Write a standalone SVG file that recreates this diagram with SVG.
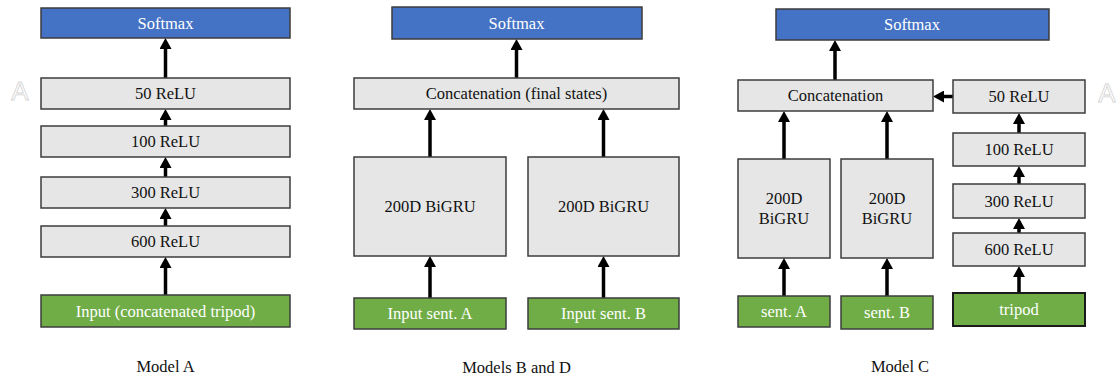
<svg xmlns="http://www.w3.org/2000/svg" width="1117" height="378" viewBox="0 0 1117 378">
<style>
.box{stroke:#3c3c3c;stroke-width:1.5}
.gray{fill:#e6e6e6}
.blue{fill:#4472c4}
.green{fill:#70ad47}
text{font-family:"Liberation Serif","Times New Roman",serif;font-size:16.5px;text-anchor:middle}
.w{fill:#ffffff}
.k{fill:#111111}
.cap{fill:#111111}
.ghost{font-family:"Liberation Sans",Arial,sans-serif;font-size:26px;fill:#ffffff;stroke:#d4d4d4;stroke-width:0.8}
.arr{stroke:#000;stroke-width:3.5;fill:none;marker-end:url(#ah)}
</style>
<defs>
<marker id="ah" markerUnits="userSpaceOnUse" markerWidth="11" markerHeight="12" refX="3" refY="6" orient="auto">
<path d="M0,0 L11,6 L0,12 z" fill="#000"/>
</marker>
</defs>
<rect width="1117" height="378" fill="#ffffff"/>
<text class="ghost" x="20" y="100">A</text>
<text class="ghost" x="1107" y="102">A</text>

<g id="connectors">
<line class="arr" x1="165.5" y1="78" x2="165.5" y2="46"/>
<line class="arr" x1="165.5" y1="126" x2="165.5" y2="117"/>
<line class="arr" x1="165.5" y1="177" x2="165.5" y2="165"/>
<line class="arr" x1="165.5" y1="226" x2="165.5" y2="216"/>
<line class="arr" x1="165.5" y1="295" x2="165.5" y2="265"/>

<line class="arr" x1="516.5" y1="78" x2="516.5" y2="47"/>
<line class="arr" x1="430" y1="157" x2="430" y2="117"/>
<line class="arr" x1="603.5" y1="157" x2="603.5" y2="117"/>
<line class="arr" x1="430" y1="298" x2="430" y2="264"/>
<line class="arr" x1="603.5" y1="298" x2="603.5" y2="264"/>

<line class="arr" x1="835" y1="80" x2="835" y2="48"/>
<line class="arr" x1="784" y1="159" x2="784" y2="119"/>
<line class="arr" x1="887" y1="159" x2="887" y2="119"/>
<line class="arr" x1="784" y1="296" x2="784" y2="266"/>
<line class="arr" x1="887" y1="296" x2="887" y2="266"/>
<line class="arr" x1="1019" y1="133" x2="1019" y2="121"/>
<line class="arr" x1="1019" y1="184" x2="1019" y2="174"/>
<line class="arr" x1="1019" y1="233" x2="1019" y2="226"/>
<line class="arr" x1="1019" y1="293" x2="1019" y2="274"/>
<line class="arr" x1="953" y1="96.5" x2="941" y2="96.5"/>
</g>

<g id="modelA">
<g id="a-softmax"><rect class="box blue" x="41" y="8" width="249" height="30"/><text class="w" x="165.5" y="28.5">Softmax</text></g>
<g id="a-50"><rect class="box gray" x="41" y="78" width="249" height="31"/><text class="k" x="165.5" y="99">50 ReLU</text></g>
<g id="a-100"><rect class="box gray" x="41" y="126" width="249" height="31"/><text class="k" x="165.5" y="147">100 ReLU</text></g>
<g id="a-300"><rect class="box gray" x="41" y="177" width="249" height="31"/><text class="k" x="165.5" y="198">300 ReLU</text></g>
<g id="a-600"><rect class="box gray" x="41" y="226" width="249" height="31"/><text class="k" x="165.5" y="247">600 ReLU</text></g>
<g id="a-input"><rect class="box green" x="41" y="295" width="249" height="32"/><text class="w" x="165.5" y="316.5">Input (concatenated tripod)</text></g>
<text class="cap" x="165.5" y="372">Model A</text>
</g>

<g id="modelBD">
<g id="b-softmax"><rect class="box blue" x="392" y="7" width="250" height="32"/><text class="w" x="516.5" y="28.5">Softmax</text></g>
<g id="b-concat"><rect class="box gray" x="354" y="78" width="325" height="31"/><text class="k" x="516.5" y="99">Concatenation (final states)</text></g>
<g id="b-gruA"><rect class="box gray" x="354" y="157" width="152" height="99"/><text class="k" x="430" y="212">200D BiGRU</text></g>
<g id="b-gruB"><rect class="box gray" x="528" y="157" width="151" height="99"/><text class="k" x="603.5" y="212">200D BiGRU</text></g>
<g id="b-inA"><rect class="box green" x="354" y="298" width="152" height="31"/><text class="w" x="430" y="319">Input sent. A</text></g>
<g id="b-inB"><rect class="box green" x="528" y="298" width="151" height="31"/><text class="w" x="603.5" y="319">Input sent. B</text></g>
<text class="cap" x="516.5" y="373">Models B and D</text>
</g>

<g id="modelC">
<g id="c-softmax"><rect class="box blue" x="776" y="9" width="273" height="31"/><text class="w" x="912" y="30">Softmax</text></g>
<g id="c-concat"><rect class="box gray" x="738" y="80" width="195" height="31"/><text class="k" x="835.5" y="101">Concatenation</text></g>
<g id="c-50"><rect class="box gray" x="953" y="80" width="132" height="33"/><text class="k" x="1019" y="102">50 ReLU</text></g>
<g id="c-100"><rect class="box gray" x="953" y="133" width="132" height="33"/><text class="k" x="1019" y="155">100 ReLU</text></g>
<g id="c-300"><rect class="box gray" x="953" y="184" width="132" height="34"/><text class="k" x="1019" y="206.5">300 ReLU</text></g>
<g id="c-600"><rect class="box gray" x="953" y="233" width="132" height="33"/><text class="k" x="1019" y="255">600 ReLU</text></g>
<g id="c-tripod"><rect class="green" x="953" y="293" width="132" height="33" stroke="#1a1a1a" stroke-width="2"/><text class="w" x="1019" y="315">tripod</text></g>
<g id="c-gruA"><rect class="box gray" x="738" y="159" width="92" height="99"/><text class="k" x="784" y="204">200D</text><text class="k" x="784" y="224">BiGRU</text></g>
<g id="c-gruB"><rect class="box gray" x="841" y="159" width="92" height="99"/><text class="k" x="887" y="204">200D</text><text class="k" x="887" y="224">BiGRU</text></g>
<g id="c-sentA"><rect class="box green" x="738" y="296" width="92" height="31"/><text class="w" x="784" y="317">sent. A</text></g>
<g id="c-sentB"><rect class="box green" x="841" y="296" width="92" height="33"/><text class="w" x="887" y="318">sent. B</text></g>
<text class="cap" x="900" y="372">Model C</text>
</g>
</svg>
